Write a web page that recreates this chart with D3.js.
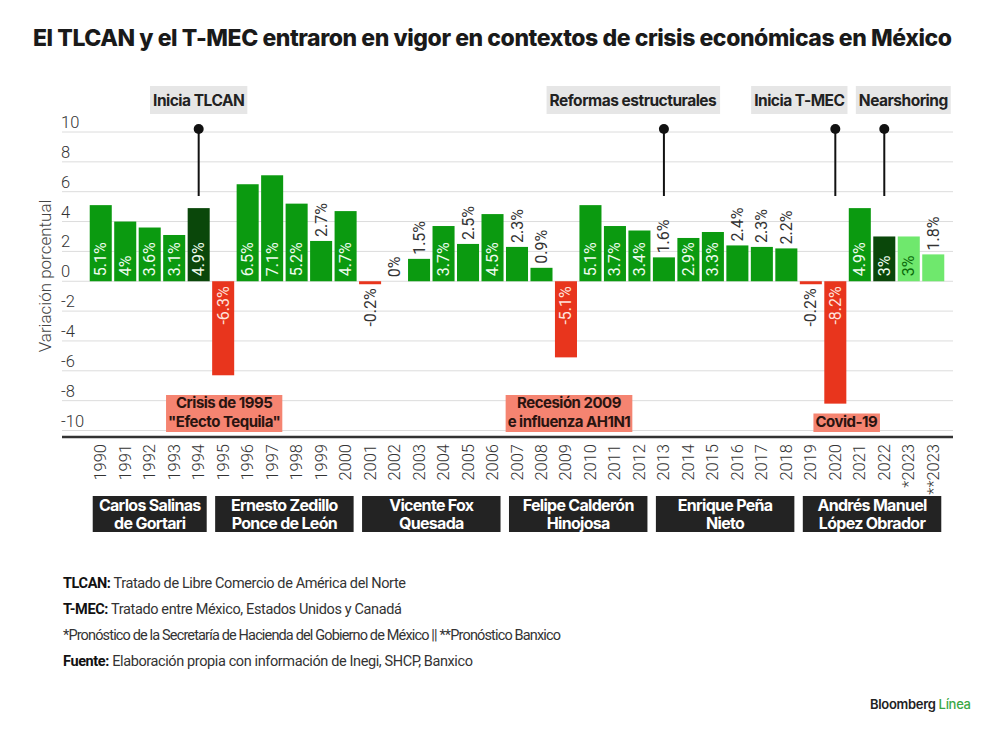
<!DOCTYPE html>
<html><head><meta charset="utf-8">
<script src="https://cdn.jsdelivr.net/npm/d3@7"></script>
<style>
html,body{margin:0;padding:0;background:#fff;}
svg{display:block;font-family:Roboto, "Liberation Sans", sans-serif;}
</style></head>
<body>
<svg id="chart" width="1000" height="735"></svg>
<script>
// ---------- DATA ----------
const years = ["1990","1991","1992","1993","1994","1995","1996","1997","1998","1999","2000",
  "2001","2002","2003","2004","2005","2006","2007","2008","2009","2010","2011","2012",
  "2013","2014","2015","2016","2017","2018","2019","2020","2021","2022","*2023","**2023"];
const growth = [5.1,4.0,3.6,3.1,4.9,-6.3,6.5,7.1,5.2,2.7,4.7,
  -0.2,0,1.5,3.7,2.5,4.5,2.3,0.9,-5.1,5.1,3.7,3.4,
  1.6,2.9,3.3,2.4,2.3,2.2,-0.2,-8.2,4.9,3.0,3.0,1.8];
const highlightYears = ["1994","2022"];
const forecastYears = ["*2023","**2023"];
const yTicks = [-10,-8,-6,-4,-2,0,2,4,6,8,10];

const topNotes = [
  {label:"Inicia TLCAN", year:"1994"},
  {label:"Reformas estructurales", year:"2013"},
  {label:"Inicia T-MEC", year:"2020"},
  {label:"Nearshoring", year:"2022"}
];
const crisisNotes = [
  {lines:["Crisis de 1995","\"Efecto Tequila\""], year:"1995"},
  {lines:["Recesión 2009","e influenza AH1N1"], year:"2009"},
  {lines:["Covid-19"], year:"2020"}
];
const presidents = [
  {lines:["Carlos Salinas","de Gortari"], from:"1990", to:"1994"},
  {lines:["Ernesto Zedillo","Ponce de León"], from:"1995", to:"2000"},
  {lines:["Vicente Fox","Quesada"], from:"2001", to:"2006"},
  {lines:["Felipe Calderón","Hinojosa"], from:"2007", to:"2012"},
  {lines:["Enrique Peña","Nieto"], from:"2013", to:"2018"},
  {lines:["Andrés Manuel","López Obrador"], from:"2019", to:"**2023"}
];
const footnotes = [
  {bold:"TLCAN:", text:" Tratado de Libre Comercio de América del Norte"},
  {bold:"T-MEC:", text:" Tratado entre México, Estados Unidos y Canadá"},
  {bold:"", text:"*Pronóstico de la Secretaría de Hacienda del Gobierno de México || **Pronóstico Banxico"},
  {bold:"Fuente:", text:" Elaboración propia con información de Inegi, SHCP, Banxico"}
];
const titleText = "El TLCAN y el T-MEC entraron en vigor en contextos de crisis económicas en México";
const yAxisTitle = "Variación porcentual";

// ---------- LAYOUT / STYLE ----------
const C = {green:"#0b9a10", dark:"#0a470a", light:"#6fe86d", red:"#e8351d",
  grid:"#dcdcdc", text:"#333", noteBox:"#e6e6e6", crisisBox:"#f58471", presBox:"#232323"};
const topShift = {"1994":0,"2013":-31,"2020":-36,"2022":19};
const crisisShift = {"1995":1,"2009":3,"2020":11};

const data = years.map((y,i)=>({year:y, value:growth[i]}));
const svg = d3.select("#chart");

const x = d3.scaleBand().domain(years).range([88.5,945.5]).paddingInner(0.1).paddingOuter(0.05);
const y = d3.scaleLinear().domain([-10,10]).range([430.5,132]);
const bw = x.bandwidth();
const cx = d => x(d)+bw/2;

function fitWidth(sel, target){
  const n = sel.node();
  const w = n.getComputedTextLength();
  const chars = n.textContent.length;
  sel.attr("letter-spacing", ((target-w)/Math.max(1,chars-1)).toFixed(3));
}

// title
const title = svg.append("text").attr("x",33).attr("y",46)
  .attr("font-family","Inter, Roboto, sans-serif").attr("font-weight",800)
  .attr("font-size",23).attr("fill","#1a1a1a").text(titleText);
fitWidth(title, 919);

// gridlines + ticks
svg.append("g").selectAll("line").data(yTicks).join("line")
  .attr("x1",62).attr("x2",953).attr("y1",d=>y(d)).attr("y2",d=>y(d))
  .attr("stroke",C.grid).attr("stroke-width",1);
svg.append("g").selectAll("text").data(yTicks).join("text")
  .attr("x",61).attr("y",d=>y(d)-4).attr("font-size",16.5).attr("font-weight",300)
  .attr("fill",C.text).text(d=>d);

// y axis title
svg.append("text").attr("transform","translate(51,276) rotate(-90)")
  .attr("text-anchor","middle").attr("font-size",17).attr("font-weight",300)
  .attr("fill","#444").text(yAxisTitle);

// lollipops + top notes
topNotes.forEach(n=>{
  const lx = cx(n.year);
  svg.append("line").attr("x1",lx).attr("x2",lx).attr("y1",129).attr("y2",196)
    .attr("stroke","#111").attr("stroke-width",2);
  svg.append("circle").attr("cx",lx).attr("cy",129).attr("r",5).attr("fill","#111");
  const g = svg.append("g");
  const t = g.append("text").attr("x",lx+topShift[n.year]).attr("y",105.5)
    .attr("text-anchor","middle").attr("font-family","Inter, Roboto, sans-serif")
    .attr("font-weight",700).attr("font-size",15.5).attr("letter-spacing",-0.5)
    .attr("fill","#222").text(n.label);
  const bb = t.node().getBBox();
  g.insert("rect","text").attr("x",bb.x-3).attr("y",86).attr("width",bb.width+6)
    .attr("height",28).attr("fill",C.noteBox);
});

// bars
function barColor(d){
  if(d.value<0) return C.red;
  if(highlightYears.includes(d.year)) return C.dark;
  if(forecastYears.includes(d.year)) return C.light;
  return C.green;
}
svg.append("g").selectAll("rect").data(data.filter(d=>d.value!==0)).join("rect")
  .attr("x",d=>x(d.year)).attr("width",bw)
  .attr("y",d=>Math.min(y(d.value),y(0)))
  .attr("height",d=>Math.abs(y(d.value)-y(0)))
  .attr("fill",barColor);

// bar labels
const fmt = v => (v===0?"0":(Number.isInteger(v)?String(v):v.toFixed(1)))+"%";
svg.append("g").selectAll("text").data(data).join("text")
  .attr("transform",d=>{
    const inside = Math.abs(d.value)>=2.9;
    let py;
    if(d.value>=0) py = inside ? y(0)-5 : y(d.value)-4;
    else py = inside ? y(0)+5 : y(d.value)+4;
    return `translate(${cx(d.year)},${py}) rotate(-90)`;
  })
  .attr("text-anchor",d=>d.value>=0?"start":"end")
  .attr("dominant-baseline","central")
  .attr("font-size",16).attr("font-weight",400)
  .attr("fill",d=>{
    const inside = Math.abs(d.value)>=2.9;
    if(!inside) return "#333";
    if(forecastYears.includes(d.year)) return "#0a6a0a";
    if(d.value<0) return "#ffe3dc";
    return "#eefcee";
  })
  .text(d=>fmt(d.value));

// crisis notes
crisisNotes.forEach(n=>{
  const g = svg.append("g");
  const px = cx(n.year)+crisisShift[n.year];
  const nl = n.lines.length;
  const texts = n.lines.map((l,i)=> g.append("text").attr("x",px)
    .attr("y",427-(nl-1-i)*19).attr("text-anchor","middle")
    .attr("font-family","Inter, Roboto, sans-serif").attr("font-weight",700)
    .attr("font-size",15).attr("letter-spacing",-0.5).attr("fill","#2a1410").text(l));
  let x0=1e9,x1=-1e9;
  texts.forEach(t=>{const b=t.node().getBBox(); x0=Math.min(x0,b.x); x1=Math.max(x1,b.x+b.width);});
  const top = 432 - nl*18.5;
  g.insert("rect","text").attr("x",x0-2).attr("y",top).attr("width",x1-x0+4)
    .attr("height",432-top).attr("fill",C.crisisBox);
});

// bottom axis line
svg.append("line").attr("x1",62).attr("x2",953).attr("y1",437).attr("y2",437)
  .attr("stroke","#333").attr("stroke-width",2.5);

// year labels
svg.append("g").selectAll("text").data(years).join("text")
  .attr("transform",d=>`translate(${cx(d)},444) rotate(-90)`)
  .attr("text-anchor","end").attr("dominant-baseline","central")
  .attr("font-size",16.5).attr("font-weight",300).attr("fill","#333").text(d=>d);

// president boxes
presidents.forEach(p=>{
  const x0 = x(p.from)+3, x1 = x(p.to)+bw-3;
  svg.append("rect").attr("x",x0).attr("y",496).attr("width",x1-x0).attr("height",36)
    .attr("fill",C.presBox);
  p.lines.forEach((l,i)=> svg.append("text").attr("x",(x0+x1)/2).attr("y",510.5+i*18)
    .attr("text-anchor","middle").attr("font-family","Inter, Roboto, sans-serif")
    .attr("font-weight",700).attr("font-size",16).attr("letter-spacing",-0.7)
    .attr("fill","#fff").text(l));
});

// footnotes
const fnWidths = [343, 339, 498, 410];
footnotes.forEach((f,i)=>{
  const t = svg.append("text").attr("x",63).attr("y",588+i*26)
    .attr("font-size",14.5).attr("fill","#333");
  if(f.bold) t.append("tspan").attr("font-weight",700).attr("fill","#111").text(f.bold);
  t.append("tspan").attr("font-weight",400).text(f.text);
  fitWidth(t, fnWidths[i]);
});

// logo
const logo = svg.append("text").attr("x",870).attr("y",709).attr("font-size",13)
  .attr("font-family","Inter, Roboto, sans-serif").attr("letter-spacing",-0.3);
logo.append("tspan").attr("font-weight",600).attr("fill","#222").text("Bloomberg ");
logo.append("tspan").attr("font-weight",500).attr("fill","#3aa845").text("Línea");
</script>
</body></html>
